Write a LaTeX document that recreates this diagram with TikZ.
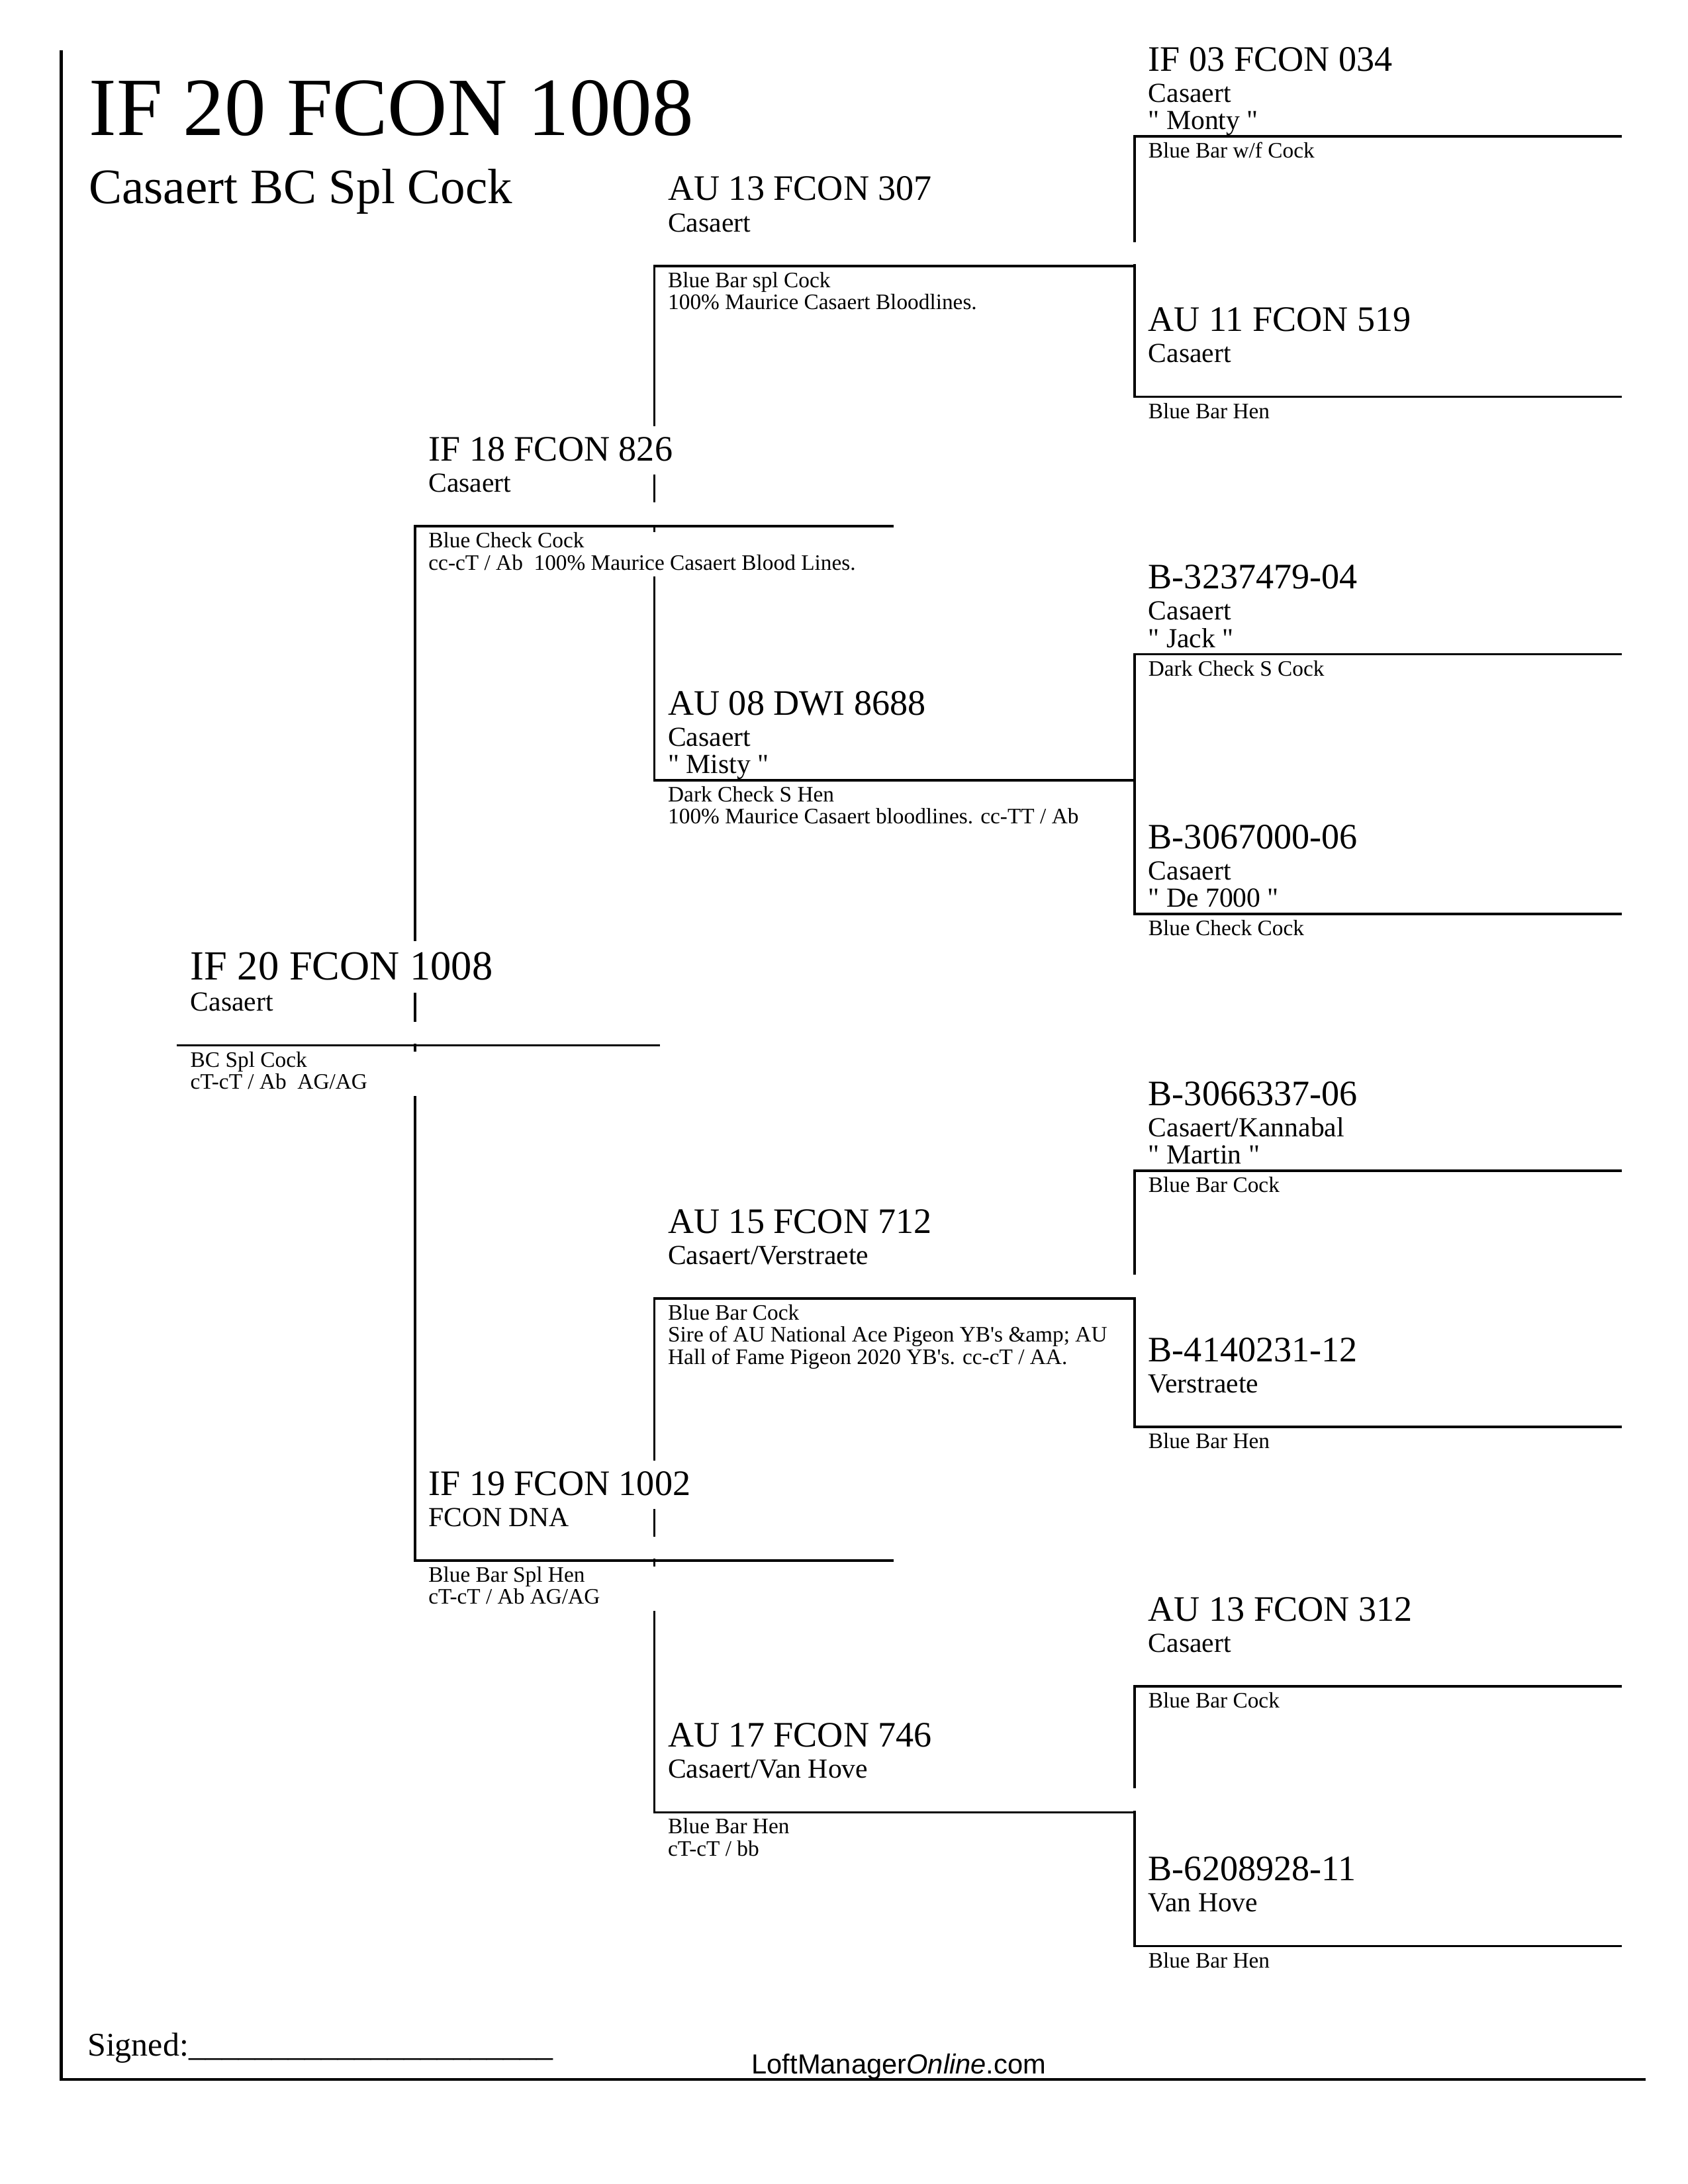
\documentclass[tikz,border=0pt]{standalone}
\usepackage{fontspec}
\setmainfont{Liberation Serif}[Ligatures=TeXOff]
\newfontfamily\sitefont{Liberation Sans}
\usepackage{tikz}

\begin{document}
\begin{tikzpicture}[x=0.5047pt, y=-0.5047pt, line width=0.9pt, every node/.style={inner sep=0pt},
  band/.style={anchor=base west, xshift=4.5pt, yshift=23.7pt, fill=white, font=\fontsize{13}{15}\selectfont, text height=12.6pt, text depth=5pt},
  bandbig/.style={band, font=\fontsize{15}{18}\selectfont, text height=14.1pt, text depth=4.5pt},
  loft/.style={anchor=base west, xshift=4.5pt, yshift=12.4pt, font=\fontsize{10}{12}\selectfont},
  pet/.style={anchor=base west, xshift=4.5pt, yshift=2.5pt, font=\fontsize{10}{12}\selectfont},
  gapbox/.style={anchor=north west, xshift=4.5pt, yshift=9.1pt, fill=white, minimum width=171pt, minimum height=8.1pt},
  notes/.style={anchor=north west, xshift=4.5pt, yshift=-1.8pt, fill=white, align=flush left, font=\fontsize{8}{8}\selectfont, execute at begin node=\strut, execute at end node=\strut},
  widenotes/.style={notes, text width=164pt}]
  \useasboundingbox (0,0) rectangle (1212,1569); % 用紙の大きさ

  \coordinate (s) at (127,751); % 本人
  \coordinate (f) at (298,378); % 父
  \coordinate (m) at (298,1121); % 母
  \coordinate (ff) at (470,191);
  \coordinate (fm) at (470,560.5);
  \coordinate (mf) at (470,932.8);
  \coordinate (mm) at (470,1302);
  \coordinate (fff) at (815,98);
  \coordinate (ffm) at (815,285);
  \coordinate (fmf) at (815,470);
  \coordinate (fmm) at (815,656.5);
  \coordinate (mff) at (815,841);
  \coordinate (mfm) at (815,1025);
  \coordinate (mmf) at (815,1211.5);
  \coordinate (mmm) at (815,1398);

  \draw[line width=1pt] (44,36) -- (44,1494) -- (1182,1494); % 外枠
  \draw (s) -- ++(347,0); % 本人の線
  \draw (f) ++(344,0) -- (f) -- (m) -- ++(344,0); % 両親
  \draw (ff) ++(345,0) -- (ff) -- (fm) -- ++(345,0); % 祖父母
  \draw (mf) ++(345,0) -- (mf) -- (mm) -- ++(345,0);
  \draw (fff) ++(350,0) -- (fff) -- (ffm) -- ++(350,0); % 曾祖父母
  \draw (fmf) ++(350,0) -- (fmf) -- (fmm) -- ++(350,0);
  \draw (mff) ++(350,0) -- (mff) -- (mfm) -- ++(350,0);
  \draw (mmf) ++(350,0) -- (mmf) -- (mmm) -- ++(350,0);

  \node[anchor=base west, font=\fontsize{30}{36}\selectfont] (title) at (63,97) {IF 20 FCON 1008}; % 見出し
  \node[anchor=base west, font=\fontsize{18}{22}\selectfont] (subtitle) at (63,146) {Casaert BC Spl Cock};

  \node[bandbig] (s-band) at (s) {IF 20 FCON 1008}; % 本人
  \node[loft] (s-loft) at (s) {Casaert};
  \node[gapbox] (s-gap) at (s) {};
  \node[widenotes] (s-notes) at (s) {BC Spl Cock\\cT-cT / Ab~ AG/AG};

  \node[band] (f-band) at (f) {IF 18 FCON 826}; % 父
  \node[loft] (f-loft) at (f) {Casaert};
  \node[gapbox] (f-gap) at (f) {};
  \node[widenotes] (f-notes) at (f) {Blue Check Cock\\cc-cT / Ab~ 100\% Maurice Casaert Blood Lines.};

  \node[band] (m-band) at (m) {IF 19 FCON 1002}; % 母
  \node[loft] (m-loft) at (m) {FCON DNA};
  \node[gapbox] (m-gap) at (m) {};
  \node[widenotes] (m-notes) at (m) {Blue Bar Spl Hen\\cT-cT / Ab AG/AG};

  \node[band] (ff-band) at (ff) {AU 13 FCON 307}; % 父方の祖父
  \node[loft] (ff-loft) at (ff) {Casaert};
  \node[gapbox] (ff-gap) at (ff) {};
  \node[notes] (ff-notes) at (ff) {Blue Bar spl Cock\\100\% Maurice Casaert Bloodlines.};

  \node[band] (fm-band) at (fm) {AU 08 DWI 8688}; % 父方の祖母
  \node[loft] (fm-loft) at (fm) {Casaert};
  \node[pet] (fm-pet) at (fm) {" Misty "};
  \node[notes] (fm-notes) at (fm) {Dark Check S Hen\\100\% Maurice Casaert bloodlines. cc-TT / Ab};

  \node[band] (mf-band) at (mf) {AU 15 FCON 712}; % 母方の祖父
  \node[loft] (mf-loft) at (mf) {Casaert/Verstraete};
  \node[gapbox] (mf-gap) at (mf) {};
  \node[notes] (mf-notes) at (mf) {Blue Bar Cock\\Sire of AU National Ace Pigeon YB's \&amp; AU\\Hall of Fame Pigeon 2020 YB's. cc-cT / AA.};

  \node[band] (mm-band) at (mm) {AU 17 FCON 746}; % 母方の祖母
  \node[loft] (mm-loft) at (mm) {Casaert/Van Hove};
  \node[gapbox] (mm-gap) at (mm) {};
  \node[notes] (mm-notes) at (mm) {Blue Bar Hen\\cT-cT / bb};

  \node[band] (fff-band) at (fff) {IF 03 FCON 034}; % 曾祖父母
  \node[loft] (fff-loft) at (fff) {Casaert};
  \node[pet] (fff-pet) at (fff) {" Monty "};
  \node[notes] (fff-notes) at (fff) {Blue Bar w/f Cock};

  \node[band] (ffm-band) at (ffm) {AU 11 FCON 519};
  \node[loft] (ffm-loft) at (ffm) {Casaert};
  \node[notes] (ffm-notes) at (ffm) {Blue Bar Hen};

  \node[band] (fmf-band) at (fmf) {B-3237479-04};
  \node[loft] (fmf-loft) at (fmf) {Casaert};
  \node[pet] (fmf-pet) at (fmf) {" Jack "};
  \node[notes] (fmf-notes) at (fmf) {Dark Check S Cock};

  \node[band] (fmm-band) at (fmm) {B-3067000-06};
  \node[loft] (fmm-loft) at (fmm) {Casaert};
  \node[pet] (fmm-pet) at (fmm) {" De 7000 "};
  \node[notes] (fmm-notes) at (fmm) {Blue Check Cock};

  \node[band] (mff-band) at (mff) {B-3066337-06};
  \node[loft] (mff-loft) at (mff) {Casaert/Kannabal};
  \node[pet] (mff-pet) at (mff) {" Martin "};
  \node[notes] (mff-notes) at (mff) {Blue Bar Cock};

  \node[band] (mfm-band) at (mfm) {B-4140231-12};
  \node[loft] (mfm-loft) at (mfm) {Verstraete};
  \node[notes] (mfm-notes) at (mfm) {Blue Bar Hen};

  \node[band] (mmf-band) at (mmf) {AU 13 FCON 312};
  \node[loft] (mmf-loft) at (mmf) {Casaert};
  \node[notes] (mmf-notes) at (mmf) {Blue Bar Cock};

  \node[band] (mmm-band) at (mmm) {B-6208928-11};
  \node[loft] (mmm-loft) at (mmm) {Van Hove};
  \node[notes] (mmm-notes) at (mmm) {Blue Bar Hen};

  \node[anchor=base west, font=\fontsize{12}{14}\selectfont] (sign) at (62,1477) {Signed:\_\_\_\_\_\_\_\_\_\_\_\_\_\_\_\_\_\_\_\_\_\_}; % 署名欄
  \node[anchor=base west, font=\sitefont\fontsize{10}{12}\selectfont] (site) at (539,1489.6) {LoftManager\textit{Online}.com};
\end{tikzpicture}
\end{document}
